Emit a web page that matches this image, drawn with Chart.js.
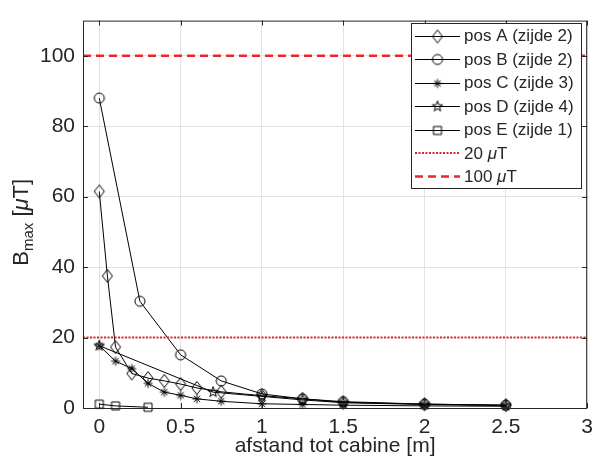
<!DOCTYPE html>
<html>
<head>
<meta charset="utf-8">
<script src="https://cdn.jsdelivr.net/npm/chart.js@4.4.0/dist/chart.umd.min.js"></script>
<style>
  html, body { margin: 0; padding: 0; background: #fff; }
  #wrap { width: 600px; height: 468px; }
</style>
</head>
<body>
<div id="wrap"><canvas id="chart" width="600" height="468"></canvas></div>
<script>
// afstand tot cabine [m] en gemeten B_max [uT] per positie
const xA = [0, 0.05, 0.1, 0.2, 0.3, 0.4, 0.5, 0.6, 0.75, 1, 1.25, 1.5, 2, 2.5];
const bA = [61.5, 37.5, 17.3, 9.8, 8.5, 7.7, 6.8, 5.7, 4.6, 3.5, 2.6, 1.6, 1.1, 0.8];

const xB = [0, 0.25, 0.5, 0.75, 1, 1.25, 1.5, 2, 2.5];
const bB = [88, 30.3, 15.1, 7.7, 4.0, 2.6, 1.8, 1.1, 0.8];

const xC = [0, 0.1, 0.2, 0.3, 0.4, 0.5, 0.6, 0.75, 1, 1.25, 1.5, 2, 2.5];
const bC = [17.7, 13.3, 11.2, 7.0, 4.5, 3.6, 2.6, 1.9, 1.2, 1.0, 0.8, 0.6, 0.5];

const xD = [0, 0.7, 1, 1.25, 1.5, 2, 2.5];
const bD = [17.7, 4.5, 3.3, 2.3, 1.5, 1.0, 0.7];

const xE = [0, 0.1, 0.3];
const bE = [1.1, 0.6, 0.2];

// grenswaarden
const limit20 = 20;
const limit100 = 100;

const seriesNames = ['pos A (zijde 2)', 'pos B (zijde 2)', 'pos C (zijde 3)', 'pos D (zijde 4)', 'pos E (zijde 1)'];
const xTicks = [0, 0.5, 1, 1.5, 2, 2.5, 3];
const yTicks = [0, 20, 40, 60, 80, 100];
const xRange = [-0.1, 3];
const yRange = [0, 110];

const FONT = "'Liberation Sans', Arial, sans-serif";
const AXIS_COLOR = '#262626';
const RED_DOT = '#d42a2a';
const RED_DASH = '#e8292b';

function pts(xs, ys) {
    return xs.map((x, i) => ({ x: x, y: ys[i] }));
}

// MATLAB-like open markers drawn on small canvases
function makeMarker(kind) {
    const c = document.createElement('canvas');
    c.width = 16;
    c.height = 16;
    const g = c.getContext('2d');
    g.strokeStyle = '#000';
    g.lineWidth = 1;
    g.beginPath();
    if (kind === 'diamond') {
        g.moveTo(8, 1.5); g.lineTo(13, 8); g.lineTo(8, 14.5); g.lineTo(3, 8); g.closePath();
    } else if (kind === 'circle') {
        g.arc(8, 8, 5, 0, Math.PI * 2);
    } else if (kind === 'asterisk') {
        g.moveTo(3.5, 8); g.lineTo(12.5, 8);
        g.moveTo(8, 3.5); g.lineTo(8, 12.5);
        g.moveTo(4.8, 4.8); g.lineTo(11.2, 11.2);
        g.moveTo(11.2, 4.8); g.lineTo(4.8, 11.2);
    } else if (kind === 'pentagram') {
        for (let i = 0; i < 10; i++) {
            const r = i % 2 === 0 ? 5.5 : 2.2;
            const a = -Math.PI / 2 + i * Math.PI / 5;
            const px = 8 + r * Math.cos(a);
            const py = 8 + r * Math.sin(a);
            if (i === 0) g.moveTo(px, py); else g.lineTo(px, py);
        }
        g.closePath();
    } else if (kind === 'square') {
        g.rect(4, 4, 8, 8);
    }
    g.stroke();
    return c;
}

const markers = ['diamond', 'circle', 'asterisk', 'pentagram', 'square'].map(makeMarker);

function seriesDataset(i, xs, ys) {
    return {
        label: seriesNames[i],
        data: pts(xs, ys),
        borderColor: '#000',
        borderWidth: 1,
        pointStyle: markers[i],
        pointRadius: 5,
        tension: 0,
        clip: false
    };
}

function drawParts(ctx, parts, x, y) {
    parts.forEach(p => {
        ctx.font = p.f;
        ctx.fillText(p.t, x, y + (p.dy || 0));
        x += ctx.measureText(p.t).width;
    });
}

function partsWidth(ctx, parts) {
    let w = 0;
    parts.forEach(p => {
        ctx.font = p.f;
        w += ctx.measureText(p.t).width;
    });
    return w;
}

const decorPlugin = {
    id: 'decor',
    afterDraw(chart) {
        const ctx = chart.ctx;
        const area = chart.chartArea;
        const xs = chart.scales.x;
        const ys = chart.scales.y;

        ctx.save();
        // frame
        ctx.strokeStyle = AXIS_COLOR;
        ctx.lineWidth = 1;
        ctx.strokeRect(area.left + 0.5, area.top + 0.5, area.right - area.left - 1, area.bottom - area.top);

        // inward ticks
        ctx.beginPath();
        xTicks.forEach(v => {
            const px = Math.round(xs.getPixelForValue(v)) + 0.5;
            ctx.moveTo(px, area.bottom); ctx.lineTo(px, area.bottom - 5);
            ctx.moveTo(px, area.top); ctx.lineTo(px, area.top + 5);
        });
        yTicks.forEach(v => {
            const py = Math.round(ys.getPixelForValue(v)) + 0.5;
            ctx.moveTo(area.left, py); ctx.lineTo(area.left + 5, py);
            ctx.moveTo(area.right, py); ctx.lineTo(area.right - 5, py);
        });
        ctx.stroke();

        // y title: B_max [uT]
        const big = '22px ' + FONT;
        const yParts = [
            { t: 'B', f: big },
            { t: 'max', f: '15px ' + FONT, dy: 5 },
            { t: ' [', f: big },
            { t: 'μ', f: 'italic 22px ' + FONT },
            { t: 'T]', f: big }
        ];
        ctx.fillStyle = AXIS_COLOR;
        ctx.textBaseline = 'alphabetic';
        ctx.textAlign = 'left';
        const cy = (area.top + area.bottom) / 2 + 8;
        ctx.translate(20, cy);
        ctx.rotate(-Math.PI / 2);
        drawParts(ctx, yParts, -partsWidth(ctx, yParts) / 2, 8);
        ctx.restore();

        // legend box
        ctx.save();
        const lx = 411, ly = 23, lw = 170, lh = 165;
        ctx.fillStyle = '#fff';
        ctx.fillRect(lx, ly, lw, lh);
        ctx.strokeStyle = AXIS_COLOR;
        ctx.lineWidth = 1;
        ctx.strokeRect(lx + 0.5, ly + 0.5, lw, lh);

        const rowH = 23.5;
        const legFont = '17px ' + FONT;
        ctx.textBaseline = 'middle';
        for (let i = 0; i < 7; i++) {
            const cyRow = ly + 12.5 + i * rowH;
            ctx.beginPath();
            if (i < 5) {
                ctx.strokeStyle = '#000';
                ctx.lineWidth = 1;
                ctx.setLineDash([]);
                ctx.moveTo(415, Math.round(cyRow) + 0.5);
                ctx.lineTo(460, Math.round(cyRow) + 0.5);
                ctx.stroke();
                ctx.drawImage(markers[i], 437.5 - 8, Math.round(cyRow) + 0.5 - 8);
                ctx.fillStyle = AXIS_COLOR;
                ctx.font = legFont;
                ctx.fillText(seriesNames[i], 464, cyRow + 1);
            } else {
                const dotted = i === 5;
                ctx.strokeStyle = dotted ? RED_DOT : RED_DASH;
                ctx.lineWidth = dotted ? 2 : 2.5;
                ctx.setLineDash(dotted ? [2, 1.5] : [8, 5]);
                ctx.moveTo(415, cyRow);
                ctx.lineTo(460, cyRow);
                ctx.stroke();
                ctx.setLineDash([]);
                ctx.fillStyle = AXIS_COLOR;
                const val = dotted ? '20 ' : '100 ';
                drawParts(ctx, [
                    { t: val, f: legFont },
                    { t: 'μ', f: 'italic 17px ' + FONT },
                    { t: 'T', f: legFont }
                ], 464, cyRow + 1);
            }
        }
        ctx.restore();
    }
};

const chart = new Chart(document.getElementById('chart'), {
    type: 'line',
    data: {
        datasets: [
            {
                label: '100 μT',
                data: pts(xRange, [limit100, limit100]),
                borderColor: RED_DASH,
                borderWidth: 2.5,
                borderDash: [8, 5],
                pointRadius: 0
            },
            {
                label: '20 μT',
                data: pts(xRange, [limit20, limit20]),
                borderColor: RED_DOT,
                borderWidth: 2,
                borderDash: [2, 1.5],
                pointRadius: 0
            },
            seriesDataset(4, xE, bE),
            seriesDataset(3, xD, bD),
            seriesDataset(2, xC, bC),
            seriesDataset(1, xB, bB),
            seriesDataset(0, xA, bA)
        ]
    },
    options: {
        responsive: false,
        animation: false,
        devicePixelRatio: 1,
        layout: { padding: { top: 10, right: 7, left: 0, bottom: 0 } },
        plugins: {
            legend: { display: false },
            tooltip: { enabled: false }
        },
        scales: {
            x: {
                type: 'linear',
                min: xRange[0],
                max: xRange[1],
                afterBuildTicks: scale => { scale.ticks = xTicks.map(v => ({ value: v })); },
                afterFit: scale => { scale.height = 60; },
                grid: { color: '#e3e3e3', drawTicks: false },
                border: { display: false },
                ticks: {
                    padding: 7,
                    color: AXIS_COLOR,
                    font: { family: FONT, size: 21 },
                    maxRotation: 0,
                    callback: v => String(v)
                },
                title: {
                    display: true,
                    text: 'afstand tot cabine [m]',
                    color: AXIS_COLOR,
                    font: { family: FONT, size: 21 },
                    padding: { top: 0, bottom: 9 }
                }
            },
            y: {
                type: 'linear',
                min: yRange[0],
                max: yRange[1],
                afterBuildTicks: scale => { scale.ticks = yTicks.map(v => ({ value: v })); },
                afterFit: scale => { scale.width = 83; },
                grid: { color: '#e3e3e3', drawTicks: false },
                border: { display: false },
                ticks: {
                    padding: 8,
                    color: AXIS_COLOR,
                    font: { family: FONT, size: 21 },
                    callback: v => String(v)
                }
            }
        }
    },
    plugins: [decorPlugin]
});
</script>
</body>
</html>
